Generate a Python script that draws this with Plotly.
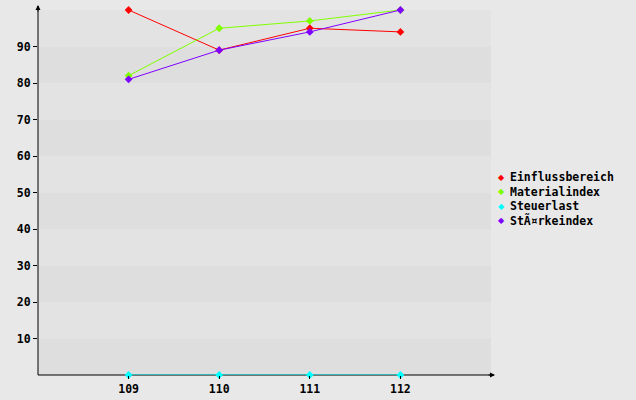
import plotly.graph_objects as go

categories = [109, 110, 111, 112]
einfluss = [100, 89, 95, 94]
material = [82, 95, 97, 100]
steuer = [0, 0, 0, 0]
staerke = [81, 89, 94, 100]
series_names = ["Einflussbereich", "Materialindex", "Steuerlast", "StÃ¤rkeindex"]
series_values = [einfluss, material, steuer, staerke]
colors = ["#ff0000", "#80ff00", "#00ffff", "#8000ff"]
y_ticks = [10, 20, 30, 40, 50, 60, 70, 80, 90]

L, R, T, B = 38, 145, 10, 25
W, H = 636, 400
PW, PH = W - L - R, H - T - B
FONTB = dict(family="DejaVu Sans Mono", size=11.5, weight="bold", color="#000000")

fig = go.Figure()
for name, vals, col in zip(series_names, series_values, colors):
    fig.add_trace(go.Scatter(
        x=categories, y=vals, mode="lines+markers", name=name,
        line=dict(color=col, width=1),
        marker=dict(symbol="diamond", size=6, color=col),
        showlegend=False, cliponaxis=False,
    ))

shapes = []
for i in range(10):
    shapes.append(dict(
        type="rect", xref="paper", yref="y", x0=0, x1=1, y0=i * 10, y1=(i + 1) * 10,
        fillcolor="#dedede" if i % 2 == 0 else "#e3e3e3", line=dict(width=0), layer="below",
    ))
# axis lines (below the data so the Steuerlast line stays visible on top)
shapes.append(dict(type="line", xref="paper", yref="paper", x0=0, x1=0, y0=0, y1=1 + 4 / PH,
                   line=dict(color="#000", width=1), layer="below"))
shapes.append(dict(type="line", xref="paper", yref="paper", x0=0, x1=1 + 3 / PW, y0=0, y1=0,
                   line=dict(color="#000", width=1), layer="below"))

annotations = [
    dict(xref="paper", yref="paper", x=0, y=1 + 5 / PH, ax=0, ay=8,
         showarrow=True, arrowhead=2, arrowsize=1, arrowwidth=1, arrowcolor="#000", text=""),
    dict(xref="paper", yref="paper", x=1 + 4 / PW, y=0, ax=-8, ay=0,
         showarrow=True, arrowhead=2, arrowsize=1, arrowwidth=1, arrowcolor="#000", text=""),
]
legend_rows = [177, 192, 206, 221]
for name, col, py in zip(series_names, colors, legend_rows):
    yp = (H - B - py) / PH
    annotations.append(dict(xref="paper", yref="paper", x=(502 - L) / PW, y=yp,
                            xanchor="center", yanchor="middle", showarrow=False,
                            text="◆", font=dict(family="DejaVu Sans", size=8, color=col)))
    annotations.append(dict(xref="paper", yref="paper", x=(508 - L) / PW, y=yp,
                            xanchor="left", yanchor="middle", showarrow=False,
                            text=name, font=FONTB))

fig.update_layout(
    width=W, height=H,
    margin=dict(l=L, r=R, t=T, b=B),
    paper_bgcolor="#e8e8e8", plot_bgcolor="#e8e8e8",
    font=FONTB,
    shapes=shapes,
    showlegend=False,
    hovermode=False,
    xaxis=dict(range=[108, 113], tickvals=categories, ticktext=[str(c) for c in categories],
               showgrid=False, zeroline=False, showline=False, automargin=False,
               ticks="outside", ticklen=3, tickcolor="#000", tickfont=FONTB),
    yaxis=dict(range=[0, 100], tickvals=y_ticks, ticktext=[str(v) for v in y_ticks],
               showgrid=False, zeroline=False, showline=False, automargin=False,
               ticks="outside", ticklen=4, tickcolor="#000", tickfont=FONTB),
    annotations=annotations,
)

fig.write_html("out.html", config={"displayModeBar": False},
               post_script="document.body.style.margin='0';")
